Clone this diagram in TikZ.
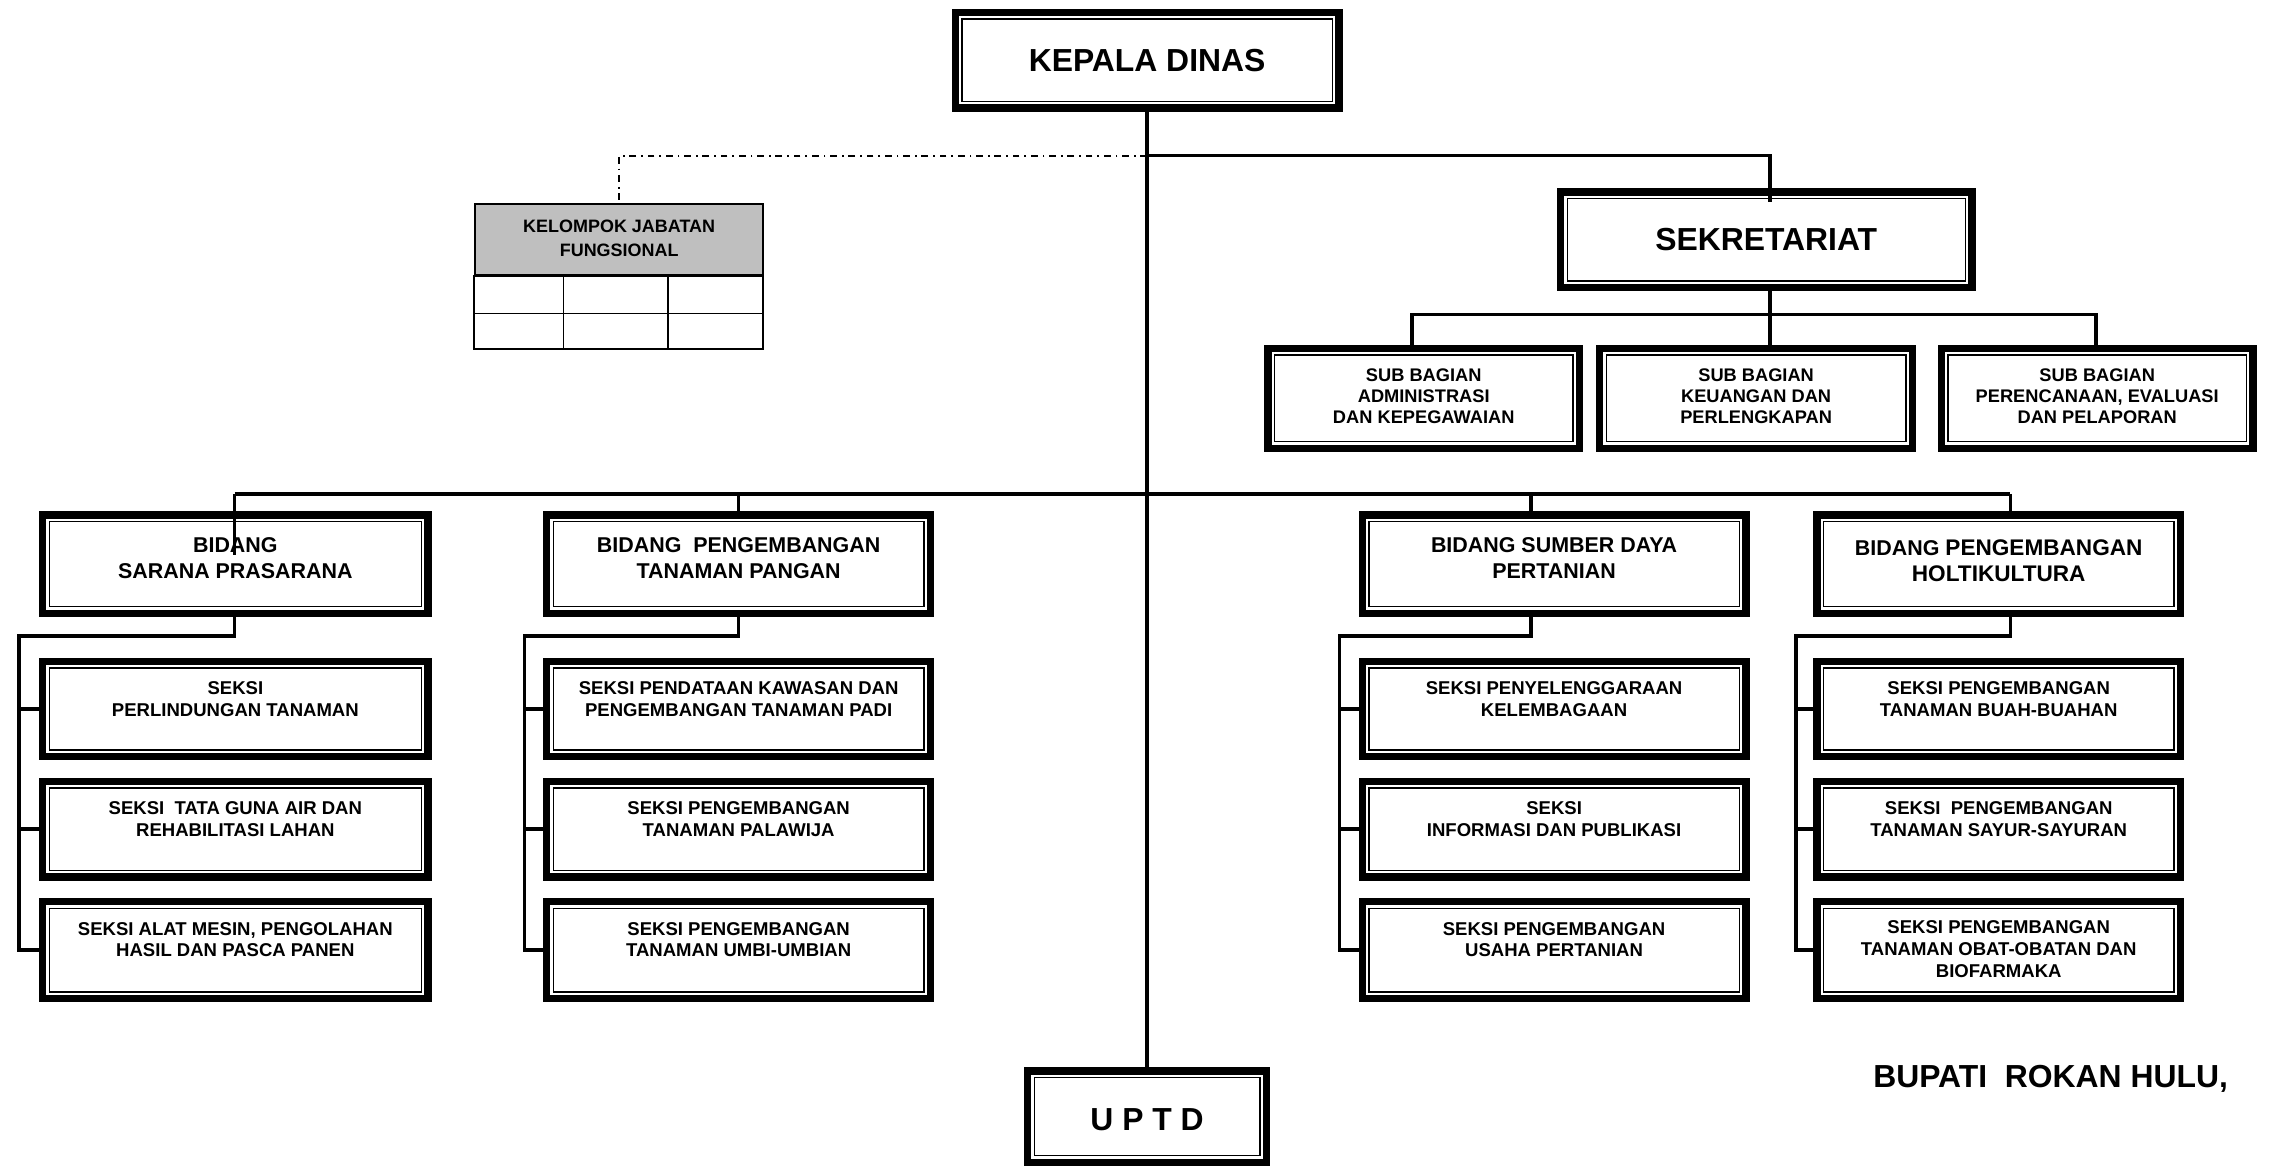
\documentclass[tikz,border=0pt]{standalone}
\usepackage{fontspec}
\setmainfont{Liberation Sans}

% Box with a thick outer frame and a thin inner frame
\newcommand\orgbox[5]{%
  \node[orgframe,
        minimum width={((#4)-(#2))*0.5-2.5},
        minimum height={((#5)-(#3))*0.5-2.5}]
    (#1) at ({((#2)+(#4))/2},{((#3)+(#5))/2}) {};}
% Text hung from the top edge of a box
\newcommand\boxtext[4]{%
  \node[#2, anchor=north] (#1-t) at ([yshift=-#3pt]#1.north) {#4};}

\tikzset{
  x=0.5pt, y=-0.5pt,
  orgframe/.style={draw, line width=2.5pt, inner sep=0pt, outer sep=0pt,
    path picture={\draw[line width=0.5pt]
      ([shift={(2.3pt,2.3pt)}]path picture bounding box.south west) rectangle
      ([shift={(-2.3pt,-2.3pt)}]path picture bounding box.north east);}},
  link/.style={line width=1.2pt},
  dotdash/.style={line width=0.6pt, dash pattern=on 2.3pt off 1.7pt on 0.6pt off 1.7pt},
  bigtext/.style={font=\fontsize{11pt}{13pt}\selectfont\bfseries, inner sep=0pt},
  bidtext/.style={font=\fontsize{7.4pt}{9pt}\selectfont\bfseries, align=center, inner sep=0pt},
  sektext/.style={font=\fontsize{6.4pt}{7.5pt}\selectfont\bfseries, align=center, inner sep=0pt},
  subtext/.style={font=\fontsize{6.3pt}{7.25pt}\selectfont\bfseries, align=center, inner sep=0pt},
  kjftext/.style={font=\fontsize{6.2pt}{8pt}\selectfont\bfseries, align=center, inner sep=0pt},
  gridline/.style={line width=0.6pt},
}

\begin{document}
\begin{tikzpicture}
\useasboundingbox (0,0) rectangle (1568,806);

% ---- head ----
\orgbox{kd}{657}{6}{927}{77}
\node[bigtext] (kd-t) at (kd.center) {KEPALA DINAS};

% ---- secretariat ----
\orgbox{sek}{1075}{130}{1364}{201}
\node[bigtext] (sek-t) at (sek.center) {SEKRETARIAT};

\orgbox{sb1}{873}{238}{1093}{312}
\orgbox{sb2}{1102}{238}{1323}{312}
\orgbox{sb3}{1338}{238}{1558}{312}
\boxtext{sb1}{subtext}{7}{SUB BAGIAN\\ADMINISTRASI\\DAN KEPEGAWAIAN}
\boxtext{sb2}{subtext}{7}{SUB BAGIAN\\KEUANGAN DAN\\PERLENGKAPAN}
\boxtext{sb3}{subtext}{7}{SUB BAGIAN\\PERENCANAAN, EVALUASI\\DAN PELAPORAN}

% ---- functional group table ----
\node[draw, gridline, fill=black!25, inner sep=0pt, minimum width=99.5pt, minimum height=24.5pt]
  (kjf) at (427.5,165.5) {};
\node[kjftext] (kjf-t) at (427.5,164.5) {KELOMPOK JABATAN\\FUNGSIONAL};
\draw[gridline] (kjf.south west) rectangle (527,241);
\draw[gridline] (328,216.5) -- (527,216.5);
\draw[gridline] (389,190.5) -- (389,241);
\draw[gridline] (461,190.5) -- (461,241);

% ---- divisions ----
\orgbox{b1}{27}{353}{298}{426}
\orgbox{b2}{375}{353}{645}{426}
\orgbox{b3}{938}{353}{1208}{426}
\orgbox{b4}{1252}{353}{1508}{426}
\boxtext{b1}{bidtext}{7.6}{BIDANG\\SARANA PRASARANA}
\boxtext{b2}{bidtext}{7.6}{BIDANG\ \ PENGEMBANGAN\\TANAMAN PANGAN}
\boxtext{b3}{bidtext}{7.6}{BIDANG SUMBER DAYA\\PERTANIAN}
\boxtext{b4}{bidtext}{8.4}{BIDANG {\fontsize{7.8pt}{9pt}\selectfont PENGEMBANGAN}\\{\fontsize{7.8pt}{9pt}\selectfont HOLTIKULTURA}}

% ---- sections ----
\orgbox{k11}{27}{454}{298}{525}
\orgbox{k12}{27}{537}{298}{608}
\orgbox{k13}{27}{620}{298}{692}
\orgbox{k21}{375}{454}{645}{525}
\orgbox{k22}{375}{537}{645}{608}
\orgbox{k23}{375}{620}{645}{692}
\orgbox{k31}{938}{454}{1208}{525}
\orgbox{k32}{938}{537}{1208}{608}
\orgbox{k33}{938}{620}{1208}{692}
\orgbox{k41}{1252}{454}{1508}{525}
\orgbox{k42}{1252}{537}{1508}{608}
\orgbox{k43}{1252}{620}{1508}{692}

\boxtext{k11}{sektext}{6.9}{SEKSI\\PERLINDUNGAN TANAMAN}
\boxtext{k12}{sektext}{6.9}{SEKSI\ \ TATA GUNA AIR DAN\\REHABILITASI LAHAN}
\boxtext{k13}{sektext}{6.9}{SEKSI ALAT MESIN, PENGOLAHAN\\HASIL DAN PASCA PANEN}
\boxtext{k21}{sektext}{6.9}{SEKSI PENDATAAN KAWASAN DAN\\PENGEMBANGAN TANAMAN PADI}
\boxtext{k22}{sektext}{6.9}{SEKSI PENGEMBANGAN\\TANAMAN PALAWIJA}
\boxtext{k23}{sektext}{6.9}{SEKSI PENGEMBANGAN\\TANAMAN UMBI-UMBIAN}
\boxtext{k31}{sektext}{6.9}{SEKSI PENYELENGGARAAN\\KELEMBAGAAN}
\boxtext{k32}{sektext}{6.9}{SEKSI\\INFORMASI DAN PUBLIKASI}
\boxtext{k33}{sektext}{6.9}{SEKSI PENGEMBANGAN\\USAHA PERTANIAN}
\boxtext{k41}{sektext}{6.9}{SEKSI PENGEMBANGAN\\TANAMAN BUAH-BUAHAN}
\boxtext{k42}{sektext}{6.9}{SEKSI\ \ PENGEMBANGAN\\TANAMAN SAYUR-SAYURAN}
\boxtext{k43}{sektext}{6.5}{SEKSI PENGEMBANGAN\\TANAMAN OBAT-OBATAN DAN\\BIOFARMAKA}

% ---- technical unit ----
\orgbox{uptd}{707}{737}{877}{805}
\node[bigtext] (uptd-t) at ([yshift=-1pt]uptd.center) {U P T D};

\node[font=\fontsize{11pt}{12pt}\selectfont\bfseries, anchor=base west, inner sep=0pt]
  (bupati) at (1293,751) {BUPATI\ \ ROKAN HULU,};

% ---- junction points ----
\coordinate (jtop)  at (792,107.5);
\coordinate (jsek)  at (1222,217);
\coordinate (jsbL)  at (975,217);
\coordinate (jsbR)  at (1447,217);
\coordinate (jb1)   at (162,341);
\coordinate (jb2)   at (510,341);
\coordinate (jb3)   at (1057,341);
\coordinate (jb4)   at (1388,341);
\coordinate (g1)    at (13,439);
\coordinate (g2)    at (362,439);
\coordinate (g3)    at (925,439);
\coordinate (g4)    at (1240,439);

% ---- connectors ----
\draw[link] (kd.south) -- (uptd.north);
\draw[link] (jtop) -| ([yshift=-3.5pt]sek.north -| jsek);
\draw[dotdash] (jtop) -| (kjf.north);

\draw[link] (sek.south -| jsek) -- (sb2.north -| jsek);
\draw[link] (sb1.north -| jsbL) -- (jsbL) -- (jsbR) -- (sb3.north -| jsbR);

\draw[link] (jb1) -- (jb4);
\draw[link] (jb1) -- ([yshift=-14pt]b1.north -| jb1);
\draw[link] (jb2) -- (b2.north -| jb2);
\draw[link] (jb3) -- (b3.north -| jb3);
\draw[link] (jb4) -- (b4.north -| jb4);

\draw[link] (b1.south -| jb1) |- (g1) |- (k13.west);
\draw[link] (k11.west -| g1) -- (k11.west);
\draw[link] (k12.west -| g1) -- (k12.west);

\draw[link] (b2.south -| jb2) |- (g2) |- (k23.west);
\draw[link] (k21.west -| g2) -- (k21.west);
\draw[link] (k22.west -| g2) -- (k22.west);

\draw[link] (b3.south -| jb3) |- (g3) |- (k33.west);
\draw[link] (k31.west -| g3) -- (k31.west);
\draw[link] (k32.west -| g3) -- (k32.west);

\draw[link] (b4.south -| jb4) |- (g4) |- (k43.west);
\draw[link] (k41.west -| g4) -- (k41.west);
\draw[link] (k42.west -| g4) -- (k42.west);
\end{tikzpicture}
\end{document}
